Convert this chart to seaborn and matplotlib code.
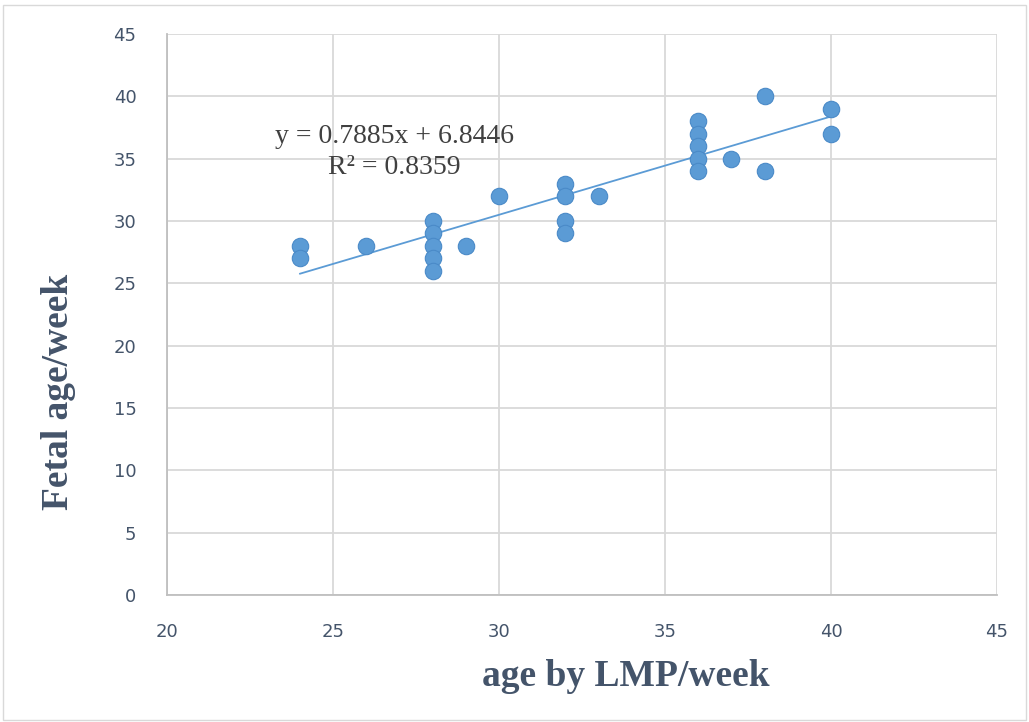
import numpy as np
import pandas as pd
import seaborn as sns
import matplotlib.pyplot as plt
from matplotlib.patches import Rectangle

# data
lmp_week = [24, 24, 26, 28, 28, 28, 28, 28, 29, 30, 32, 32, 32, 32, 33,
            36, 36, 36, 36, 36, 37, 38, 38, 40, 40]
fetal_week = [28, 27, 28, 30, 29, 28, 27, 26, 28, 32, 33, 32, 30, 29, 32,
              38, 37, 36, 35, 34, 35, 40, 34, 39, 37]
slope = 0.7885
intercept = 6.8446
r2 = 0.8359
x_ticks = [20, 25, 30, 35, 40, 45]
y_ticks = [0, 5, 10, 15, 20, 25, 30, 35, 40, 45]

df = pd.DataFrame({"lmp": lmp_week, "fetal": fetal_week})

sns.set_theme(style="white")
tick_font = ["Liberation Sans Narrow", "DejaVu Sans"]
label_font = ["Liberation Serif", "DejaVu Serif"]

fig = plt.figure(figsize=(10.29, 7.22), dpi=100)
ax = fig.add_axes([0.1623, 0.1759, 0.8066, 0.777])

blue = "#5B9BD5"
ax.grid(True, color="#D9D9D9", linewidth=1.3)
ax.set_axisbelow(True)

# trendline from the fitted equation
xs = np.array([min(lmp_week), max(lmp_week)])
sns.lineplot(x=xs, y=slope * xs + intercept, ax=ax, color=blue, linewidth=1.3)

sns.scatterplot(data=df, x="lmp", y="fetal", ax=ax, color=blue, s=140,
                edgecolor="#4A8AC8", linewidth=0.8, zorder=3)

ax.set_xlim(20, 45)
ax.set_ylim(0, 45)
ax.set_xticks(x_ticks)
ax.set_yticks(y_ticks)
for lab in ax.get_xticklabels() + ax.get_yticklabels():
    lab.set_family(tick_font)
    lab.set_fontsize(13)
    lab.set_color("#44546A")
ax.tick_params(axis="x", length=0, pad=20)
ax.tick_params(axis="y", length=0, pad=22)

for side in ["top", "right"]:
    ax.spines[side].set_visible(False)
for side in ["left", "bottom"]:
    ax.spines[side].set_color("#BFBFBF")
    ax.spines[side].set_linewidth(1.3)

ax.set_xlabel("")
ax.set_ylabel("")
fig.text(626 / 1029, 1 - 676 / 722, "age by LMP/week", family=label_font,
         fontweight="bold", fontsize=27, color="#44546A", ha="center", va="center")
fig.text(59 / 1029, 1 - 392 / 722, "Fetal age/week", family=label_font,
         fontweight="bold", fontsize=27, color="#44546A", ha="center", va="center",
         rotation=90)

ax.text(26.84, 35.55, f"y = {slope}x + {intercept}\nR² = {r2}",
        family=label_font, fontsize=20, color="#404040",
        ha="center", va="center", linespacing=1.3)

fig.patches.append(Rectangle((0.003, 0.003), 0.994, 0.99, transform=fig.transFigure,
                             fill=False, edgecolor="#D9D9D9", linewidth=1))

fig.savefig("out.png", dpi=100)
